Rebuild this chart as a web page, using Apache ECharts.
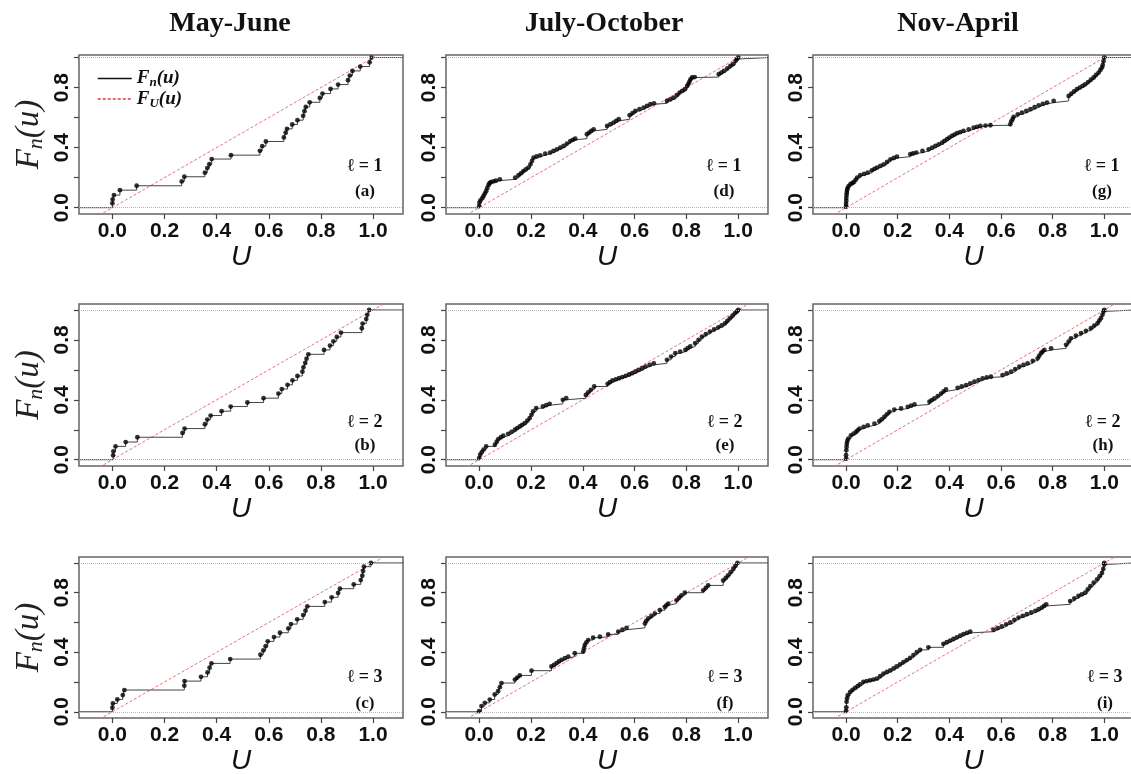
<!DOCTYPE html>
<html>
<head>
<meta charset="utf-8">
<title>Empirical CDF panels</title>
<script src="https://cdn.jsdelivr.net/npm/echarts@6.0.0/dist/echarts.min.js"></script>
<style>
html, body { margin: 0; padding: 0; background: #fff; }
#main { width: 1131px; height: 774px; }
</style>
</head>
<body>
<div id="main"></div>
<script>
// points (u, Fn(u))
var ptsA = [[0.000,0.029],[0.001,0.055],[0.006,0.084],[0.029,0.117],[0.093,0.146],[0.266,0.175],[0.276,0.206],[0.355,0.233],[0.364,0.264],[0.372,0.290],[0.381,0.324],[0.455,0.350],[0.566,0.379],[0.575,0.410],[0.589,0.441],[0.658,0.468],[0.665,0.499],[0.670,0.525],[0.690,0.554],[0.710,0.583],[0.732,0.612],[0.737,0.643],[0.742,0.671],[0.757,0.702],[0.796,0.731],[0.806,0.760],[0.837,0.791],[0.866,0.820],[0.904,0.849],[0.911,0.880],[0.921,0.911],[0.951,0.940],[0.987,0.968],[0.994,1.000]];
var ptsB = [[0.003,0.029],[0.004,0.056],[0.012,0.089],[0.051,0.118],[0.096,0.150],[0.269,0.179],[0.277,0.208],[0.355,0.237],[0.364,0.268],[0.377,0.295],[0.419,0.324],[0.454,0.355],[0.518,0.382],[0.580,0.411],[0.637,0.442],[0.650,0.472],[0.672,0.500],[0.691,0.530],[0.710,0.559],[0.729,0.588],[0.733,0.617],[0.740,0.646],[0.745,0.675],[0.752,0.704],[0.812,0.733],[0.835,0.762],[0.848,0.791],[0.861,0.820],[0.877,0.849],[0.957,0.878],[0.960,0.909],[0.974,0.939],[0.978,0.968],[0.985,1.000]];
var ptsC = [[0.000,0.027],[0.002,0.056],[0.019,0.083],[0.040,0.112],[0.046,0.146],[0.276,0.175],[0.277,0.206],[0.340,0.235],[0.365,0.264],[0.373,0.296],[0.380,0.325],[0.452,0.354],[0.568,0.383],[0.579,0.412],[0.588,0.441],[0.596,0.473],[0.620,0.502],[0.643,0.531],[0.675,0.560],[0.685,0.589],[0.709,0.621],[0.732,0.650],[0.741,0.679],[0.748,0.708],[0.815,0.737],[0.841,0.769],[0.866,0.798],[0.873,0.827],[0.926,0.856],[0.953,0.885],[0.959,0.914],[0.962,0.946],[0.965,0.975],[0.992,1.000]];
var ptsD = [[0.000,0.010],[0.001,0.033],[0.005,0.048],[0.012,0.063],[0.017,0.078],[0.022,0.094],[0.027,0.110],[0.031,0.130],[0.036,0.150],[0.040,0.163],[0.045,0.170],[0.055,0.175],[0.065,0.180],[0.080,0.189],[0.139,0.200],[0.152,0.216],[0.162,0.230],[0.171,0.244],[0.180,0.255],[0.190,0.267],[0.198,0.289],[0.204,0.311],[0.210,0.333],[0.222,0.341],[0.236,0.349],[0.255,0.360],[0.274,0.367],[0.287,0.378],[0.300,0.389],[0.313,0.400],[0.326,0.411],[0.339,0.427],[0.352,0.444],[0.362,0.452],[0.371,0.460],[0.416,0.489],[0.425,0.500],[0.433,0.511],[0.442,0.522],[0.494,0.544],[0.507,0.556],[0.519,0.567],[0.529,0.578],[0.539,0.589],[0.581,0.616],[0.592,0.630],[0.603,0.644],[0.619,0.656],[0.635,0.667],[0.648,0.678],[0.661,0.689],[0.675,0.695],[0.725,0.711],[0.738,0.722],[0.751,0.733],[0.764,0.750],[0.774,0.767],[0.784,0.778],[0.794,0.789],[0.803,0.811],[0.808,0.825],[0.812,0.840],[0.816,0.855],[0.822,0.867],[0.832,0.870],[0.925,0.889],[0.935,0.900],[0.945,0.911],[0.958,0.927],[0.970,0.944],[0.980,0.956],[0.990,0.978],[0.995,0.990],[1.000,1.000]];
var ptsE = [[0.000,0.011],[0.004,0.033],[0.010,0.050],[0.017,0.067],[0.027,0.089],[0.061,0.100],[0.068,0.120],[0.074,0.138],[0.084,0.150],[0.093,0.160],[0.112,0.173],[0.125,0.186],[0.138,0.200],[0.147,0.211],[0.157,0.222],[0.166,0.233],[0.176,0.244],[0.186,0.261],[0.195,0.278],[0.202,0.300],[0.208,0.322],[0.220,0.344],[0.246,0.356],[0.259,0.364],[0.272,0.373],[0.323,0.400],[0.336,0.411],[0.412,0.433],[0.421,0.450],[0.431,0.467],[0.444,0.489],[0.496,0.507],[0.505,0.518],[0.515,0.529],[0.528,0.537],[0.540,0.544],[0.553,0.552],[0.566,0.560],[0.579,0.569],[0.591,0.578],[0.604,0.589],[0.617,0.600],[0.630,0.611],[0.642,0.622],[0.658,0.633],[0.674,0.644],[0.725,0.667],[0.741,0.689],[0.757,0.711],[0.776,0.722],[0.796,0.733],[0.805,0.745],[0.815,0.756],[0.834,0.778],[0.847,0.800],[0.860,0.822],[0.875,0.839],[0.891,0.856],[0.907,0.870],[0.923,0.884],[0.936,0.897],[0.949,0.911],[0.958,0.927],[0.968,0.944],[0.978,0.961],[0.987,0.978],[0.995,0.990],[1.000,1.000]];
var ptsF = [[0.000,0.004],[0.009,0.038],[0.022,0.060],[0.041,0.082],[0.060,0.116],[0.073,0.138],[0.080,0.165],[0.086,0.193],[0.138,0.216],[0.147,0.230],[0.157,0.244],[0.202,0.276],[0.279,0.304],[0.289,0.315],[0.299,0.327],[0.308,0.338],[0.318,0.349],[0.331,0.360],[0.344,0.371],[0.369,0.393],[0.402,0.405],[0.405,0.427],[0.408,0.449],[0.414,0.466],[0.421,0.482],[0.440,0.498],[0.466,0.504],[0.498,0.520],[0.537,0.538],[0.553,0.551],[0.569,0.564],[0.640,0.593],[0.645,0.610],[0.653,0.627],[0.665,0.643],[0.678,0.660],[0.698,0.682],[0.717,0.704],[0.723,0.715],[0.730,0.727],[0.762,0.749],[0.772,0.766],[0.781,0.782],[0.794,0.800],[0.865,0.816],[0.875,0.833],[0.884,0.849],[0.942,0.882],[0.952,0.899],[0.961,0.916],[0.971,0.938],[0.981,0.960],[0.989,0.980],[0.997,1.000]];
var ptsG = [[0.000,0.007],[0.000,0.025],[0.001,0.045],[0.001,0.065],[0.002,0.085],[0.003,0.100],[0.004,0.115],[0.006,0.130],[0.010,0.144],[0.017,0.156],[0.024,0.163],[0.030,0.170],[0.037,0.185],[0.043,0.200],[0.055,0.216],[0.070,0.225],[0.084,0.233],[0.100,0.249],[0.110,0.258],[0.120,0.267],[0.133,0.278],[0.146,0.289],[0.159,0.305],[0.172,0.322],[0.185,0.331],[0.197,0.340],[0.249,0.356],[0.260,0.361],[0.272,0.367],[0.296,0.378],[0.320,0.389],[0.333,0.400],[0.346,0.411],[0.359,0.422],[0.372,0.433],[0.381,0.445],[0.391,0.456],[0.400,0.467],[0.410,0.478],[0.420,0.487],[0.430,0.496],[0.442,0.503],[0.455,0.511],[0.475,0.522],[0.494,0.533],[0.507,0.538],[0.520,0.544],[0.540,0.547],[0.559,0.549],[0.636,0.555],[0.640,0.575],[0.645,0.590],[0.649,0.605],[0.665,0.622],[0.681,0.633],[0.698,0.644],[0.714,0.656],[0.730,0.669],[0.746,0.682],[0.762,0.691],[0.778,0.700],[0.804,0.711],[0.862,0.744],[0.872,0.759],[0.883,0.774],[0.894,0.789],[0.905,0.800],[0.916,0.811],[0.926,0.822],[0.937,0.837],[0.948,0.852],[0.959,0.867],[0.968,0.884],[0.978,0.900],[0.985,0.917],[0.991,0.933],[0.994,0.950],[0.997,0.975],[1.000,1.000]];
var ptsH = [[0.000,0.007],[0.000,0.030],[0.001,0.063],[0.002,0.085],[0.003,0.107],[0.005,0.125],[0.009,0.141],[0.019,0.163],[0.029,0.174],[0.039,0.185],[0.045,0.196],[0.052,0.208],[0.068,0.219],[0.084,0.230],[0.110,0.241],[0.129,0.257],[0.138,0.270],[0.148,0.286],[0.158,0.303],[0.168,0.320],[0.187,0.335],[0.213,0.342],[0.239,0.353],[0.252,0.361],[0.265,0.369],[0.323,0.387],[0.332,0.398],[0.342,0.409],[0.355,0.425],[0.368,0.442],[0.378,0.456],[0.387,0.469],[0.432,0.480],[0.448,0.489],[0.465,0.498],[0.481,0.510],[0.497,0.521],[0.513,0.532],[0.529,0.543],[0.545,0.549],[0.561,0.554],[0.606,0.565],[0.622,0.576],[0.639,0.588],[0.655,0.605],[0.671,0.621],[0.687,0.633],[0.703,0.644],[0.723,0.660],[0.742,0.677],[0.748,0.694],[0.755,0.711],[0.761,0.722],[0.768,0.733],[0.794,0.744],[0.852,0.767],[0.862,0.789],[0.871,0.811],[0.890,0.828],[0.910,0.845],[0.929,0.861],[0.948,0.878],[0.961,0.895],[0.974,0.912],[0.981,0.929],[0.987,0.945],[0.993,0.968],[0.997,0.990],[1.000,1.000]];
var ptsI = [[0.000,0.005],[0.001,0.030],[0.002,0.067],[0.004,0.090],[0.007,0.111],[0.016,0.133],[0.025,0.147],[0.035,0.160],[0.045,0.172],[0.054,0.184],[0.067,0.200],[0.080,0.206],[0.093,0.211],[0.106,0.216],[0.119,0.222],[0.132,0.239],[0.145,0.256],[0.158,0.267],[0.171,0.278],[0.184,0.291],[0.196,0.304],[0.209,0.318],[0.222,0.333],[0.235,0.347],[0.248,0.362],[0.261,0.381],[0.274,0.400],[0.287,0.416],[0.319,0.433],[0.377,0.456],[0.390,0.467],[0.403,0.478],[0.416,0.489],[0.429,0.500],[0.442,0.511],[0.455,0.522],[0.468,0.530],[0.481,0.538],[0.571,0.551],[0.587,0.562],[0.603,0.573],[0.620,0.587],[0.636,0.600],[0.652,0.617],[0.668,0.633],[0.684,0.644],[0.700,0.656],[0.717,0.667],[0.733,0.678],[0.746,0.689],[0.758,0.700],[0.767,0.711],[0.775,0.722],[0.868,0.744],[0.884,0.761],[0.900,0.778],[0.913,0.789],[0.926,0.800],[0.936,0.822],[0.946,0.844],[0.959,0.867],[0.972,0.889],[0.982,0.911],[0.991,0.933],[0.996,0.960],[1.000,0.989],[1.000,1.000]];

var panels = [ptsA, ptsB, ptsC, ptsD, ptsE, ptsF, ptsG, ptsH, ptsI];
var panelTags = ['(a)', '(b)', '(c)', '(d)', '(e)', '(f)', '(g)', '(h)', '(i)'];
var lagTags = ['\u2113 = 1', '\u2113 = 2', '\u2113 = 3'];
var seasons = ['May-June', 'July-October', 'Nov-April'];
var xTicks = [0, 0.2, 0.4, 0.6, 0.8, 1.0];
var yTicks = [0, 0.2, 0.4, 0.6, 0.8, 1.0];
var yLabels = [0, 0.4, 0.8];
var uniformLine = [[-0.5, -0.5], [1.5, 1.5]];   // F_U(u) = u
var refLevels = [0, 1];

// layout
var X_MIN = -0.128, X_MAX = 1.115, Y_MIN = -0.042;
var yMaxRow = [1.017, 1.04, 1.04];
var colLeft = [79, 446, 813], colWidth = [324, 322, 321];
var rowTop = [55, 304, 557], rowHeight = [159, 162, 161];
var titleX = [230, 604, 958];
var tagX = [[365, 365, 365], [724, 725, 725], [1102, 1103, 1105]];
var lagY = [166, 422, 677], tagY = [192, 446, 704];

var serif = '"Liberation Serif", "DejaVu Serif", serif';
var sans = '"Liberation Sans", Arial, sans-serif';

var grids = [], xAxes = [], yAxes = [], series = [], graphics = [];

panels.forEach(function (pts, p) {
	var col = Math.floor(p / 3), row = p % 3;
	grids.push({
		left: colLeft[col], top: rowTop[row], width: colWidth[col], height: rowHeight[row],
		show: true, borderColor: '#666', borderWidth: 1.5, backgroundColor: 'transparent',
		containLabel: false, outerBoundsMode: 'none'
	});
	xAxes.push({
		gridIndex: p, type: 'value', min: X_MIN, max: X_MAX,
		axisLine: { show: false, onZero: false },
		splitLine: { show: false },
		axisTick: { show: true, length: 5, customValues: xTicks, lineStyle: { color: '#444', width: 1.2 } },
		axisLabel: {
			customValues: xTicks, margin: 7,
			formatter: function (v) { return v.toFixed(1); },
			color: '#111', fontFamily: sans, fontWeight: 'bold', fontSize: 21
		},
		name: 'U', nameLocation: 'middle', nameGap: 17,
		nameTextStyle: { fontFamily: sans, fontStyle: 'italic', fontSize: 28, color: '#111' }
	});
	var ya = {
		gridIndex: p, type: 'value', min: Y_MIN, max: yMaxRow[row],
		axisLine: { show: false, onZero: false },
		splitLine: { show: false },
		axisTick: { show: true, length: 5, customValues: yTicks, lineStyle: { color: '#444', width: 1.2 } },
		axisLabel: {
			customValues: yLabels, margin: 6, rotate: 90,
			formatter: function (v) { return v.toFixed(1); },
			color: '#111', fontFamily: sans, fontWeight: 'bold', fontSize: 21
		}
	};
	if (col === 0) {
		ya.name = '{f|F}{s|n}{f|(u)}';
		ya.nameLocation = 'middle';
		ya.nameRotate = 90;
		ya.nameGap = 32;
		ya.nameTextStyle = {
			fontFamily: serif, fontStyle: 'italic', fontSize: 33, color: '#222',
			rich: {
				f: { fontFamily: serif, fontStyle: 'italic', fontWeight: 'normal', fontSize: 33, lineHeight: 36, color: '#222' },
				s: { fontFamily: serif, fontStyle: 'italic', fontWeight: 'normal', fontSize: 22, lineHeight: 20, verticalAlign: 'bottom', color: '#222' }
			}
		};
	}
	yAxes.push(ya);

	series.push({
		type: 'line', name: 'Fn', xAxisIndex: p, yAxisIndex: p,
		data: [[X_MIN, 0]].concat(pts, [[X_MAX, 1]]),
		step: 'end', symbol: 'none', silent: true,
		itemStyle: { color: '#111' },
		lineStyle: { color: '#444', width: 1 }, z: 3
	});
	series.push({
		type: 'line', name: 'FU', xAxisIndex: p, yAxisIndex: p,
		data: uniformLine, symbol: 'none', silent: true,
		itemStyle: { color: '#e03a3a' },
		lineStyle: { color: '#e8707a', width: 1, type: [3, 2] }, z: 2
	});
	series.push({
		type: 'scatter', xAxisIndex: p, yAxisIndex: p,
		data: pts, symbolSize: 4.8, silent: true,
		itemStyle: { color: '#000' }, z: 4,
		markLine: {
			silent: true, symbol: ['none', 'none'], animation: false,
			label: { show: false },
			lineStyle: { color: '#b8b8b8', type: 'dotted', width: 1 },
			data: refLevels.map(function (v) { return { yAxis: v }; })
		}
	});

	graphics.push({
		type: 'text', x: tagX[col][row], y: lagY[row],
		style: { text: lagTags[row], font: 'bold 18px ' + serif, fill: '#111', align: 'center', verticalAlign: 'middle' }
	});
	graphics.push({
		type: 'text', x: tagX[col][row], y: tagY[row],
		style: { text: panelTags[p], font: 'bold 17px ' + serif, fill: '#111', align: 'center', verticalAlign: 'middle' }
	});
});

seasons.forEach(function (s, i) {
	graphics.push({
		type: 'text', x: titleX[i], y: 24,
		style: { text: s, font: 'bold 28px ' + serif, fill: '#111', align: 'center', verticalAlign: 'middle' }
	});
});

var legendRich = {
	f: { fontFamily: serif, fontStyle: 'italic', fontWeight: 'bold', fontSize: 19, lineHeight: 22, color: '#111' },
	s: { fontFamily: serif, fontStyle: 'italic', fontWeight: 'bold', fontSize: 13, lineHeight: 14, verticalAlign: 'bottom', color: '#111' }
};

var myChart = echarts.init(document.getElementById('main'), null, { renderer: 'canvas' });
var option = {
	animation: false,
	backgroundColor: '#fff',
	grid: grids,
	xAxis: xAxes,
	yAxis: yAxes,
	series: series,
	graphic: graphics,
	legend: {
		orient: 'vertical', left: 92, top: 64,
		itemWidth: 34, itemHeight: 14, itemGap: 0,
		selectedMode: false,
		data: [
			{ name: 'Fn', lineStyle: { color: '#111', width: 1.5 }, itemStyle: { opacity: 0 } },
			{ name: 'FU', lineStyle: { color: '#e03a3a', width: 1.5 }, itemStyle: { opacity: 0 } }
		],
		formatter: function (name) {
			return name === 'Fn' ? '{f|F}{s|n}{f|(u)}' : '{f|F}{s|U}{f|(u)}';
		},
		textStyle: { rich: legendRich }
	}
};
myChart.setOption(option);
</script>
</body>
</html>
